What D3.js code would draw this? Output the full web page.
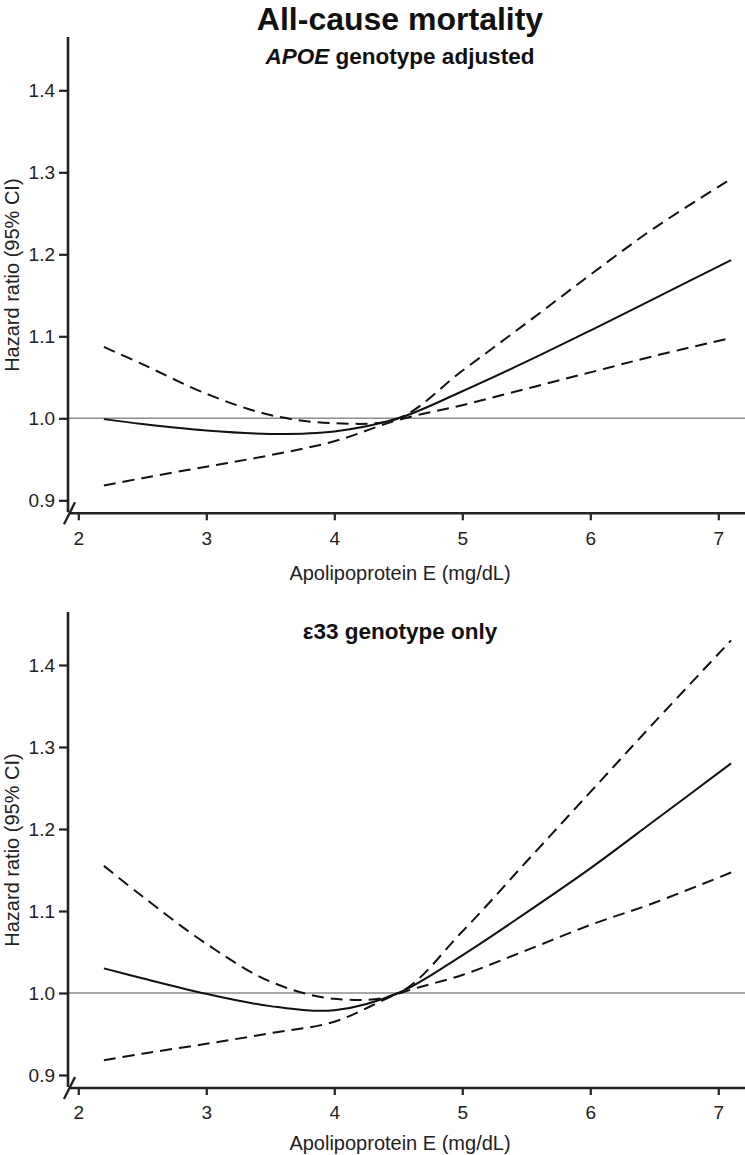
<!DOCTYPE html>
<html>
<head>
<meta charset="utf-8">
<script src="https://cdn.jsdelivr.net/npm/d3@7"></script>
<style>
  html, body { margin: 0; padding: 0; background: #fff; }
  svg { display: block; font-family: "Liberation Sans", Arial, Helvetica, sans-serif; }
</style>
</head>
<body>
<svg id="chart" width="745" height="1155"></svg>
<script>
// ---- data ----
const apoE = [2.2, 2.5, 3.0, 3.5, 4.0, 4.5, 5.0, 5.5, 6.0, 6.5, 7.1];

const adjHR    = [0.999, 0.993, 0.985, 0.981, 0.984, 1.000, 1.033, 1.069, 1.107, 1.146, 1.193];
const adjUpper = [1.087, 1.066, 1.030, 1.004, 0.994, 1.000, 1.058, 1.116, 1.175, 1.232, 1.292];
const adjLower = [0.918, 0.927, 0.941, 0.955, 0.972, 0.998, 1.016, 1.036, 1.056, 1.076, 1.098];

const e33HR    = [1.030, 1.018, 0.999, 0.984, 0.979, 1.000, 1.046, 1.098, 1.152, 1.210, 1.280];
const e33Upper = [1.155, 1.118, 1.060, 1.014, 0.993, 1.000, 1.075, 1.160, 1.245, 1.330, 1.430];
const e33Lower = [0.918, 0.926, 0.938, 0.951, 0.965, 0.999, 1.022, 1.052, 1.083, 1.110, 1.147];

const xTicks = [2, 3, 4, 5, 6, 7];
const yTicks = [0.9, 1.0, 1.1, 1.2, 1.3, 1.4];

const mainTitle = "All-cause mortality";
const xTitle = "Apolipoprotein E (mg/dL)";
const yTitle = "Hazard ratio (95% CI)";

// ---- drawing ----
const svg = d3.select("#chart");
const axisColor = "#222";

svg.append("text")
  .attr("x", 400).attr("y", 30)
  .attr("text-anchor", "middle")
  .attr("font-size", 32).attr("font-weight", "bold")
  .attr("fill", "#111")
  .text(mainTitle);

function panel(opts) {
  const g = svg.append("g");
  const x = d3.scaleLinear().domain([2, 7]).range([78.3, 718.3]);
  const y = d3.scaleLinear().domain([0.9, 1.4]).range([opts.y09, opts.y09 - 410]);
  const x0 = 68, x1 = 745;
  const yBase = opts.y09 + 13;
  const yTop = opts.yTop;

  // reference line at HR = 1
  g.append("line")
    .attr("x1", x0).attr("x2", x1)
    .attr("y1", y(1)).attr("y2", y(1))
    .attr("stroke", "#8c8c8c").attr("stroke-width", 1.6);

  // axes
  const yAxis = d3.axisLeft(y).tickValues(yTicks).tickFormat(d3.format(".1f"))
    .tickSize(9).tickSizeOuter(0).tickPadding(4);
  const ya = g.append("g").attr("transform", `translate(${x0},0)`).call(yAxis);
  ya.select(".domain").remove();
  ya.selectAll(".tick line").attr("stroke", axisColor).attr("stroke-width", 2.2);
  ya.selectAll(".tick text").attr("font-size", 19).attr("fill", "#222")
    .attr("font-family", "'Liberation Sans', Arial, sans-serif");

  const xAxis = d3.axisBottom(x).tickValues(xTicks).tickFormat(d3.format("d"))
    .tickSize(7).tickSizeOuter(0).tickPadding(11);
  const xa = g.append("g").attr("transform", `translate(0,${yBase})`).call(xAxis);
  xa.select(".domain").remove();
  xa.selectAll(".tick line").attr("stroke", axisColor).attr("stroke-width", 2.2);
  xa.selectAll(".tick text").attr("font-size", 19).attr("fill", "#222")
    .attr("font-family", "'Liberation Sans', Arial, sans-serif");

  // axis lines
  g.append("line").attr("x1", x0).attr("x2", x0).attr("y1", yTop).attr("y2", yBase - 1)
    .attr("stroke", axisColor).attr("stroke-width", 2.6);
  g.append("line").attr("x1", x0 + 1).attr("x2", x1).attr("y1", yBase).attr("y2", yBase)
    .attr("stroke", axisColor).attr("stroke-width", 2.6);

  // axis break slash
  g.append("line")
    .attr("x1", x0 - 4).attr("y1", yBase + 11)
    .attr("x2", x0 + 7).attr("y2", yBase - 11)
    .attr("stroke", axisColor).attr("stroke-width", 2.4);

  // curves
  const line = d3.line()
    .x((d, i) => x(apoE[i]))
    .y(d => y(d))
    .curve(d3.curveCatmullRom.alpha(0.5));

  g.append("path").datum(opts.upper).attr("d", line)
    .attr("fill", "none").attr("stroke", "#111").attr("stroke-width", 2)
    .attr("stroke-dasharray", "12,7");
  g.append("path").datum(opts.lower).attr("d", line)
    .attr("fill", "none").attr("stroke", "#111").attr("stroke-width", 2)
    .attr("stroke-dasharray", "12,7");
  g.append("path").datum(opts.hr).attr("d", line)
    .attr("fill", "none").attr("stroke", "#111").attr("stroke-width", 2);

  // subtitle
  const st = g.append("text")
    .attr("x", 400).attr("y", yTop + 27)
    .attr("text-anchor", "middle")
    .attr("font-size", 22.5).attr("font-weight", "bold").attr("fill", "#111");
  opts.subtitle(st);

  // axis titles
  g.append("text")
    .attr("x", 400).attr("y", yBase + opts.xTitleOff)
    .attr("text-anchor", "middle")
    .attr("font-size", 20).attr("fill", "#222")
    .text(xTitle);
  g.append("text")
    .attr("transform", `translate(19,${(yTop + yBase) / 2}) rotate(-90)`)
    .attr("text-anchor", "middle")
    .attr("font-size", 20).attr("fill", "#222")
    .text(yTitle);
}

panel({
  y09: 500.3, yTop: 37, xTitleOff: 67,
  hr: adjHR, upper: adjUpper, lower: adjLower,
  subtitle: t => {
    t.append("tspan").attr("font-style", "italic").text("APOE");
    t.append("tspan").text(" genotype adjusted");
  }
});

panel({
  y09: 1075, yTop: 612, xTitleOff: 62,
  hr: e33HR, upper: e33Upper, lower: e33Lower,
  subtitle: t => t.text("ε33 genotype only")
});
</script>
</body>
</html>
